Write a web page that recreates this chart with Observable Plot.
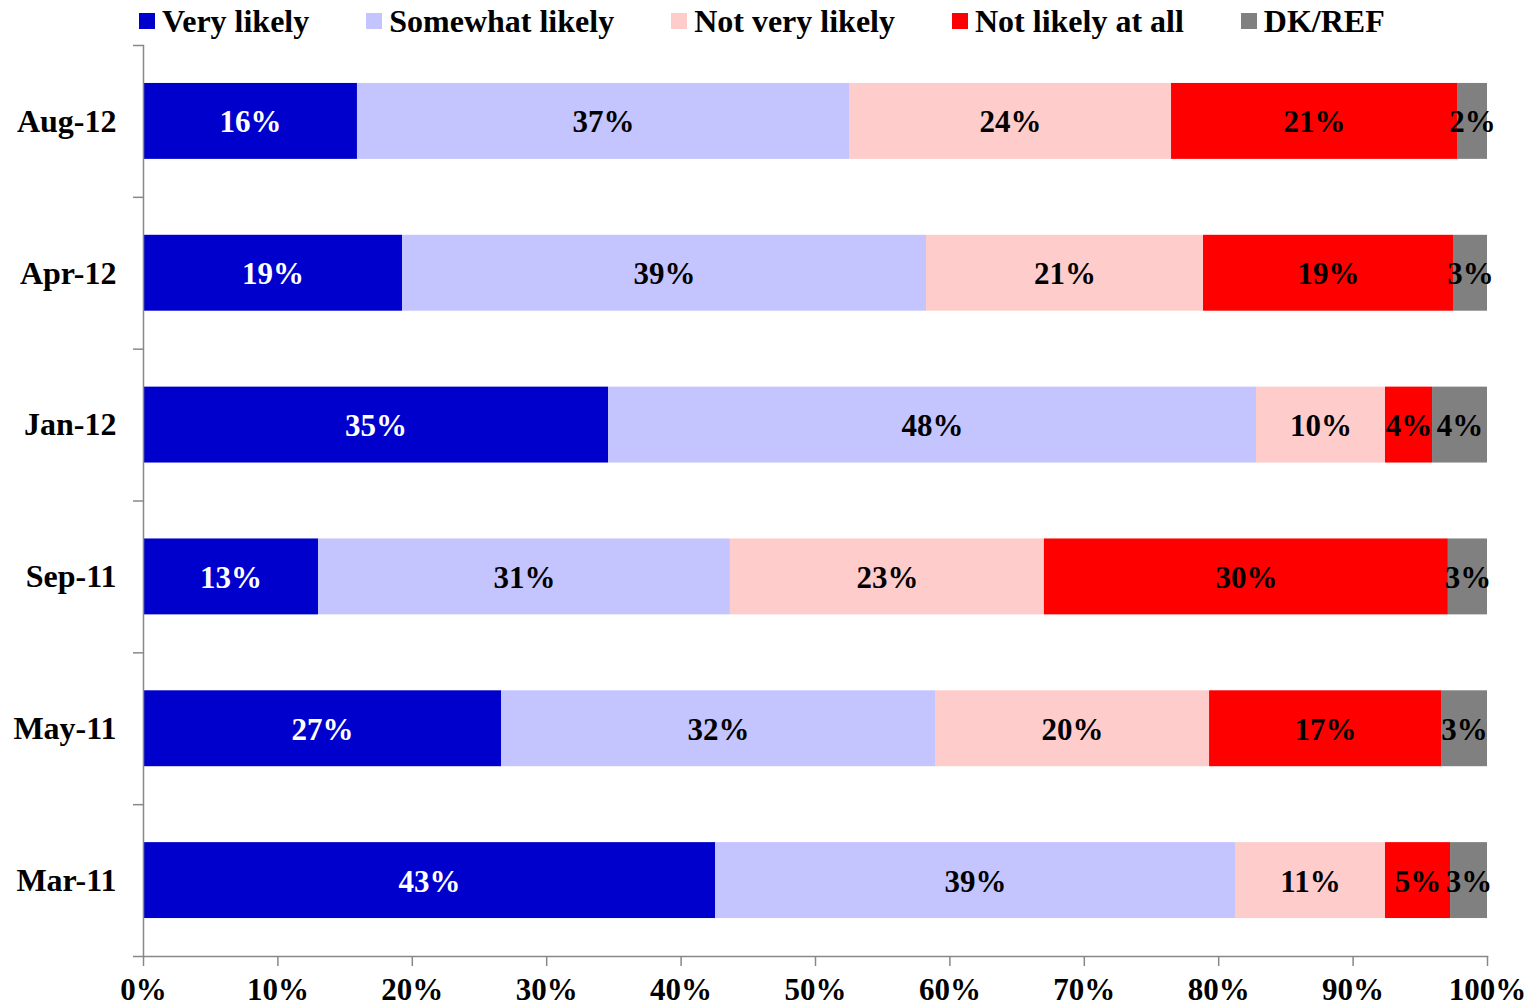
<!DOCTYPE html>
<html>
<head>
<meta charset="utf-8">
<script src="https://cdn.jsdelivr.net/npm/d3@7"></script>
<script src="https://cdn.jsdelivr.net/npm/@observablehq/plot@0.6"></script>
<style>
  html, body { margin: 0; padding: 0; background: #fff; }
  #legend { height: 40px; box-sizing: border-box; padding: 2px 0 0 139px; white-space: nowrap;
            font-family: "Liberation Serif", "Times New Roman", serif; font-weight: bold; font-size: 32px; line-height: 32px; }
  .item { display: inline-flex; align-items: center; margin-right: 57px; }
  .sw { width: 16px; height: 16px; margin-right: 7px; display: inline-block; }
  #chart svg { display: block; }
</style>
</head>
<body>
<div id="legend"></div>
<div id="chart"></div>
<script>
const categories = ["Aug-12", "Apr-12", "Jan-12", "Sep-11", "May-11", "Mar-11"];
const series = ["Very likely", "Somewhat likely", "Not very likely", "Not likely at all", "DK/REF"];
const colors = ["#0000CC", "#C4C4FF", "#FFCCCC", "#FF0000", "#808080"];

// segment widths (percent) as drawn
const veryLikely      = [15.92, 19.27, 34.60, 13.02, 26.64, 42.56];
const somewhatLikely  = [36.61, 38.99, 48.21, 30.65, 32.29, 38.69];
const notVeryLikely   = [23.96, 20.61,  9.60, 23.36, 20.39, 11.16];
const notLikelyAtAll  = [21.28, 18.60,  3.50, 30.06, 17.26,  4.84];
const dkRef           = [ 2.23,  2.53,  4.09,  2.91,  3.42,  2.75];

// printed labels
const veryLikelyLbl     = ["16%", "19%", "35%", "13%", "27%", "43%"];
const somewhatLikelyLbl = ["37%", "39%", "48%", "31%", "32%", "39%"];
const notVeryLikelyLbl  = ["24%", "21%", "10%", "23%", "20%", "11%"];
const notLikelyAtAllLbl = ["21%", "19%", "4%", "30%", "17%", "5%"];
const dkRefLbl          = ["2%", "3%", "4%", "3%", "3%", "3%"];

const xTicks = [0, 10, 20, 30, 40, 50, 60, 70, 80, 90, 100];

const valueArrays = [veryLikely, somewhatLikely, notVeryLikely, notLikelyAtAll, dkRef];
const labelArrays = [veryLikelyLbl, somewhatLikelyLbl, notVeryLikelyLbl, notLikelyAtAllLbl, dkRefLbl];

const data = [];
categories.forEach((cat, i) => {
  series.forEach((s, j) => {
    data.push({cat, series: s, value: valueArrays[j][i], label: labelArrays[j][i]});
  });
});

// legend
const legend = document.getElementById("legend");
series.forEach((s, j) => {
  const item = document.createElement("span");
  item.className = "item";
  const sw = document.createElement("span");
  sw.className = "sw";
  sw.style.background = colors[j];
  item.appendChild(sw);
  const t = document.createElement("span");
  t.textContent = s;
  item.appendChild(t);
  legend.appendChild(item);
});

const W = 1530, H = 967, mT = 5, mB = 51, mL = 143, mR = 43;
const step = (H - mT - mB) / categories.length;
const axisColor = "#888888";

const plot = Plot.plot({
  width: W,
  height: H,
  marginTop: mT,
  marginBottom: mB,
  marginLeft: mL,
  marginRight: mR,
  style: {fontFamily: "'Liberation Serif', 'Times New Roman', serif", fontSize: "31px", fontWeight: "bold", background: "#fff"},
  x: {domain: [0, 100]},
  y: {domain: categories, paddingInner: 0.5, paddingOuter: 0.25, round: false},
  color: {domain: series, range: colors},
  marks: [
    Plot.barX(data, Plot.stackX({x: "value", y: "cat", fill: "series", order: series})),
    Plot.text(data, Plot.stackX({x: "value", y: "cat", z: "series", order: series, dy: 1,
      text: d => d.series === "Very likely" ? d.label : null, fill: "white"})),
    Plot.text(data, Plot.stackX({x: "value", y: "cat", z: "series", order: series, dy: 1,
      text: d => d.series === "Very likely" ? null : d.label, fill: "black"})),
    Plot.frame({anchor: "left", stroke: axisColor, strokeWidth: 1.5}),
    Plot.frame({anchor: "bottom", stroke: axisColor, strokeWidth: 1.5}),
    Plot.axisY({tickSize: 0, tickPadding: 27, label: null, fill: "black", fontSize: 32}),
    Plot.axisY({tickSize: 10, dy: -step / 2, fill: "none", stroke: axisColor, strokeWidth: 1.5, label: null}),
    Plot.axisY([categories[categories.length - 1]], {tickSize: 10, dy: step / 2, fill: "none", stroke: axisColor, strokeWidth: 1.5, label: null}),
    Plot.axisX({ticks: xTicks, tickFormat: d => d + "%", tickSize: 10, tickPadding: 11, stroke: axisColor, strokeWidth: 1.5, fill: "black", label: null})
  ]
});
document.getElementById("chart").appendChild(plot);
</script>
</body>
</html>
